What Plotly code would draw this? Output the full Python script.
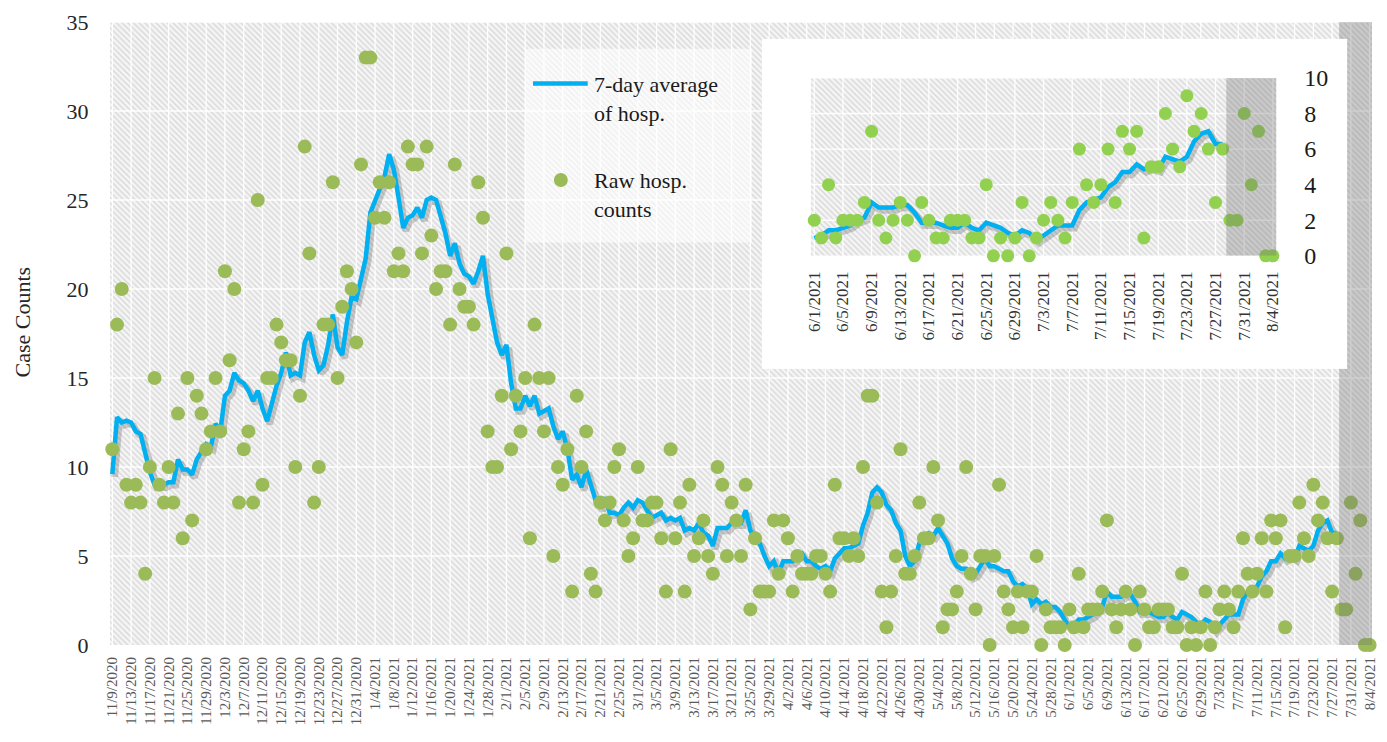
import pandas as pd
import plotly.graph_objects as go

# ---------------- data ----------------
START_DATE = "2020-11-09"

raw_counts = [
    11, 18, 20, 9, 8, 9, 8, 4, 10, 15,
    9, 8, 10, 8, 13, 6, 15, 7, 14, 13,
    11, 12, 15, 12, 21, 16, 20, 8, 11, 12,
    8, 25, 9, 15, 15, 18, 17, 16, 16, 10,
    14, 28, 22, 8, 10, 18, 18, 26, 15, 19,
    21, 20, 17, 27, 33, 33, 24, 26, 24, 26,
    21, 22, 21, 28, 27, 27, 22, 28, 23, 20,
    21, 21, 18, 27, 20, 19, 19, 18, 26, 24,
    12, 10, 10, 14, 22, 11, 14, 12, 15, 6,
    18, 15, 12, 15, 5, 10, 9, 11, 3, 14,
    10, 12, 4, 3, 8, 7, 8, 10, 11, 7,
    5, 6, 10, 7, 7, 8, 8, 6, 3, 11,
    6, 8, 3, 9, 5, 6, 7, 5, 4, 10,
    9, 5, 8, 7, 5, 9, 2, 6, 3, 3,
    3, 7, 4, 7, 6, 3, 5, 4, 4, 4,
    5, 5, 4, 3, 9, 6, 6, 5, 6, 5,
    10, 14, 14, 8, 3, 1, 3, 5, 11, 4,
    4, 5, 8, 6, 6, 10, 7, 1, 2, 2,
    3, 5, 10, 4, 2, 5, 5, 0, 5, 9,
    3, 2, 1, 3, 1, 3, 3, 5, 0, 2,
    1, 1, 1, 0, 2, 1, 4, 1, 2, 2,
    2, 3, 7, 2, 1, 2, 3, 2, 0, 3,
    2, 1, 1, 2, 2, 2, 1, 1, 4, 0,
    1, 0, 1, 3, 0, 1, 2, 3, 2, 1,
    3, 6, 4, 3, 4, 6, 3, 7, 6, 7,
    1, 5, 5, 8, 6, 5, 9, 7, 8, 6,
    3, 6, 2, 2, 8, 4, 7, 0, 0,
]

avg_7day = [
    9.6, 12.8, 12.5, 12.6, 12.5, 12.0, 11.86, 10.86, 9.71, 9.0,
    9.0, 9.0, 9.14, 9.14, 10.43, 9.86, 9.86, 9.57, 10.43, 10.86,
    11.29, 11.14, 12.43, 12.0, 14.0, 14.29, 15.29, 14.86, 14.71, 14.29,
    13.71, 14.29, 13.29, 12.57, 13.57, 14.57, 15.29, 16.43, 15.14, 15.29,
    15.14, 17.0, 17.57, 16.29, 15.43, 15.71, 16.86, 18.57, 16.71, 16.29,
    18.14, 19.57, 19.43, 20.71, 21.71, 24.29, 25.0, 25.71, 26.29, 27.57,
    26.71, 25.14, 23.43, 24.0, 24.14, 24.57, 24.0, 25.0, 25.14, 25.0,
    24.0, 23.14, 21.86, 22.57, 21.43, 20.86, 20.71, 20.29, 21.0, 21.86,
    19.71, 18.29, 17.0, 16.29, 16.86, 14.71, 13.29, 13.29, 14.0, 13.43,
    14.0, 13.0, 13.14, 13.29, 12.29, 11.57, 12.0, 11.0, 9.29, 9.57,
    8.86, 9.86, 9.0, 8.14, 7.71, 8.29, 7.43, 7.43, 7.29, 7.71,
    8.0, 7.71, 8.14, 8.0, 7.57, 7.14, 7.29, 7.43, 7.0, 7.14,
    7.0, 7.14, 6.43, 6.57, 6.43, 6.86, 6.29, 6.14, 5.57, 6.57,
    6.57, 6.57, 6.86, 6.86, 6.86, 7.57, 6.43, 6.0, 5.71, 5.0,
    4.43, 4.71, 4.0, 4.71, 4.71, 4.71, 5.0, 5.14, 4.71, 4.71,
    4.43, 4.29, 4.43, 4.14, 4.86, 5.14, 5.43, 5.43, 5.57, 5.71,
    6.71, 7.43, 8.57, 8.86, 8.57, 7.86, 7.57, 6.86, 6.43, 5.0,
    4.43, 4.71, 5.71, 6.14, 6.29, 6.14, 6.57, 6.14, 5.71, 4.86,
    4.43, 4.29, 4.29, 3.86, 4.0, 4.43, 4.86, 4.43, 4.43, 4.29,
    4.14, 4.14, 3.57, 3.29, 3.43, 3.14, 2.29, 2.57, 2.29, 2.43,
    2.14, 2.14, 1.86, 1.43, 1.0, 1.14, 1.43, 1.43, 1.57, 1.71,
    2.0, 2.14, 3.0, 2.71, 2.71, 2.71, 2.86, 2.86, 2.43, 1.86,
    1.86, 1.86, 1.71, 1.57, 1.57, 1.86, 1.57, 1.43, 1.86, 1.71,
    1.57, 1.29, 1.14, 1.43, 1.29, 0.86, 1.14, 1.43, 1.71, 1.71,
    1.71, 2.57, 3.0, 3.14, 3.29, 3.86, 4.14, 4.71, 4.71, 5.14,
    4.86, 5.0, 4.86, 5.57, 5.43, 5.29, 5.57, 6.43, 6.86, 7.0,
    6.29, 6.29,
]

y_ticks = [0, 5, 10, 15, 20, 25, 30, 35]
inset_y_ticks = [0, 2, 4, 6, 8, 10]
INSET_START = "2021-06-01"
SHADE_START = "2021-07-28 12:00"

legend_line_label = "7-day average<br>of hosp."
legend_dot_label = "Raw hosp.<br>counts"
y_title = "Case Counts"

# ---------------- derived axes helpers ----------------
dates = pd.date_range(START_DATE, periods=len(raw_counts), freq="D")
avg_dates = dates[: len(avg_7day)]
tick_dates = list(dates[::4])
tick_labels = [f"{d.month}/{d.day}/{d.year}" for d in tick_dates]

inset_start = pd.Timestamp(INSET_START)
inset_dates = [d for d in dates if d >= inset_start]
inset_raw = [v for d, v in zip(dates, raw_counts) if d >= inset_start]
inset_avg_dates = [d for d in avg_dates if d >= inset_start]
inset_avg = [v for d, v in zip(avg_dates, avg_7day) if d >= inset_start]
inset_tick_dates = inset_dates[::4]
inset_tick_labels = [f"{d.month}/{d.day}/{d.year}" for d in inset_tick_dates]

half = pd.Timedelta(hours=12)
x_lo, x_hi = dates[0] - half, dates[-1] + half
i_lo, i_hi = inset_dates[0] - half, inset_dates[-1] + half
shade_start = pd.Timestamp(SHADE_START)

# styling
BLUE = "#00B0F0"
GREEN = "#9BBB59"
GREEN_INSET = "#92D050"
SERIF = "Liberation Serif"
HATCH = dict(shape="\\", fgcolor="#b9b9b9", bgcolor="#f5f5f5", size=4, solidity=0.35)
GRID = "rgba(255,255,255,0.95)"
SHADE = "rgba(110,110,110,0.32)"
SHADOW = "rgba(40,40,40,0.22)"

fig = go.Figure()


def rect(x0, x1, y0, y1):
    return [x0, x1, x1, x0, x0], [y0, y0, y1, y1, y0]


def add_panel(xa, ya, sxa, sya, dxa, dya, lo, hi, ymax, gx, gy, d_avg, v_avg, d_raw, v_raw,
              dot_color, dot_size, line_w):
    hx, hy = rect(lo, hi, 0, ymax)
    fig.add_trace(go.Scatter(x=hx, y=hy, fill="toself", mode="none", fillpattern=HATCH,
                             hoverinfo="skip", showlegend=False, xaxis=xa, yaxis=ya))
    gxs, gys = [], []
    for t in gx:
        gxs += [t, t, None]
        gys += [0, ymax, None]
    for v in gy:
        if 0 < v:
            gxs += [lo, hi, None]
            gys += [v, v, None]
    fig.add_trace(go.Scatter(x=gxs, y=gys, mode="lines", line=dict(color=GRID, width=1.3),
                             hoverinfo="skip", showlegend=False, xaxis=xa, yaxis=ya))
    # soft shadow of the average line (same data, axes offset)
    fig.add_trace(go.Scatter(x=d_avg, y=v_avg, mode="lines", line=dict(color=SHADOW, width=line_w + 2),
                             hoverinfo="skip", showlegend=False, xaxis=sxa, yaxis=sya))
    fig.add_trace(go.Scatter(x=d_avg, y=v_avg, mode="lines", line=dict(color=BLUE, width=line_w),
                             name="7-day average of hosp.", showlegend=False, xaxis=dxa, yaxis=dya))
    fig.add_trace(go.Scatter(x=d_raw, y=v_raw, mode="markers",
                             marker=dict(color=dot_color, size=dot_size, line=dict(width=0)),
                             cliponaxis=False, name="Raw hosp. counts", showlegend=False,
                             xaxis=dxa, yaxis=dya))
    sx, sy = rect(shade_start, hi, 0, ymax)
    fig.add_trace(go.Scatter(x=sx, y=sy, fill="toself", mode="none", fillcolor=SHADE,
                             hoverinfo="skip", showlegend=False, xaxis=dxa, yaxis=dya))


# main panel
add_panel("x", "y", "x4", "y4", "x5", "y5", x_lo, x_hi, 35, tick_dates, y_ticks,
          avg_dates, avg_7day, dates, raw_counts, GREEN, 14, 4.5)

# inset white card
bx, by = rect(0, 1, 0, 1)
fig.add_trace(go.Scatter(x=bx, y=by, fill="toself", mode="none", fillcolor="white",
                         hoverinfo="skip", showlegend=False, xaxis="x2", yaxis="y2"))

# inset panel
add_panel("x3", "y3", "x6", "y6", "x7", "y7", i_lo, i_hi, 10, inset_tick_dates, inset_y_ticks,
          inset_avg_dates, inset_avg, inset_dates, inset_raw, GREEN_INSET, 13, 4.5)

# ---------------- layout ----------------
W, H = 1387, 742
ML, MR, MT, MB = 110, 9, 18, 97
PW, PH = W - ML - MR, H - MT - MB


def px_x(p):
    return (p - ML) / PW


def px_y(p):
    return (H - MB - p) / PH


main_day_px = PW / len(dates)
inset_day_px = 7.19
shift_main = pd.Timedelta(hours=24 * 2.5 / main_day_px)
shift_inset = pd.Timedelta(hours=24 * 2.5 / inset_day_px)
sy_main = 3 * 35 / PH
inset_dom_y = [px_y(253.3), px_y(74.3)]
sy_inset = 3 * 10 / ((inset_dom_y[1] - inset_dom_y[0]) * PH)

hidden = dict(visible=False, fixedrange=True)

fig.update_layout(
    width=W, height=H,
    margin=dict(l=ML, r=MR, t=MT, b=MB),
    paper_bgcolor="white", plot_bgcolor="white",
    font=dict(family=SERIF, color="#262626"),
    showlegend=False,
    xaxis=dict(domain=[0, 1], anchor="y", type="date", range=[x_lo, x_hi],
               tickmode="array", tickvals=tick_dates, ticktext=tick_labels, tickangle=-90,
               tickfont=dict(family=SERIF, size=15, color="#595959"),
               showgrid=False, zeroline=False, showline=False,
               ticks="outside", ticklen=5, tickcolor="rgba(0,0,0,0)"),
    yaxis=dict(domain=[0, 1], anchor="x", range=[0, 35], tickmode="array", tickvals=y_ticks,
               tickfont=dict(family=SERIF, size=22, color="#262626"),
               showgrid=False, zeroline=False, showline=False,
               ticks="outside", ticklen=16, tickcolor="rgba(0,0,0,0)"),
    xaxis4=dict(overlaying="x", type="date", range=[x_lo - shift_main, x_hi - shift_main], **hidden),
    yaxis4=dict(overlaying="y", range=[sy_main, 35 + sy_main], **hidden),
    xaxis5=dict(overlaying="x", type="date", range=[x_lo, x_hi], **hidden),
    yaxis5=dict(overlaying="y", range=[0, 35], **hidden),
    xaxis2=dict(domain=[px_x(765), px_x(1353)], anchor="y2", range=[0, 1], **hidden),
    yaxis2=dict(domain=[px_y(367), px_y(35)], anchor="x2", range=[0, 1], **hidden),
    xaxis3=dict(domain=[px_x(814), px_x(1282)], anchor="y3", type="date", range=[i_lo, i_hi],
                tickmode="array", tickvals=inset_tick_dates, ticktext=inset_tick_labels,
                tickangle=-90, tickfont=dict(family=SERIF, size=17, color="#333333"),
                showgrid=False, zeroline=False, showline=False,
                ticks="outside", ticklen=8, tickcolor="rgba(0,0,0,0)"),
    yaxis3=dict(domain=inset_dom_y, anchor="x3", side="right", range=[0, 10],
                tickmode="array", tickvals=inset_y_ticks,
                tickfont=dict(family=SERIF, size=24, color="#1a1a1a"),
                showgrid=False, zeroline=False, showline=False,
                ticks="outside", ticklen=22, tickcolor="rgba(0,0,0,0)"),
    xaxis6=dict(overlaying="x3", type="date", range=[i_lo - shift_inset, i_hi - shift_inset], **hidden),
    yaxis6=dict(overlaying="y3", range=[sy_inset, 10 + sy_inset], **hidden),
    xaxis7=dict(overlaying="x3", type="date", range=[i_lo, i_hi], **hidden),
    yaxis7=dict(overlaying="y3", range=[0, 10], **hidden),
)

# y-axis title
fig.add_annotation(x=px_x(22), y=px_y(320), xref="paper", yref="paper", text=y_title,
                   xanchor="center", yanchor="middle",
                   textangle=-90, showarrow=False, font=dict(family=SERIF, size=22, color="#262626"))

# hand-built legend (Excel style with long line key)
fig.add_shape(type="rect", xref="paper", yref="paper", x0=px_x(527), x1=px_x(755),
              y0=px_y(240), y1=px_y(45), fillcolor="rgba(255,255,255,0.6)", line=dict(width=0),
              layer="above")
fig.add_shape(type="line", xref="paper", yref="paper", x0=px_x(535), x1=px_x(590),
              y0=px_y(80), y1=px_y(80), line=dict(color=BLUE, width=4.5), layer="above")
fig.add_shape(type="circle", xref="paper", yref="paper", x0=px_x(556), x1=px_x(570),
              y0=px_y(184), y1=px_y(170), fillcolor=GREEN, line=dict(width=0), layer="above")
fig.add_annotation(x=px_x(594), y=px_y(95), xref="paper", yref="paper", text=legend_line_label,
                   xanchor="left", yanchor="middle", align="left", showarrow=False,
                   font=dict(family=SERIF, size=22, color="#1a1a1a"))
fig.add_annotation(x=px_x(594), y=px_y(192), xref="paper", yref="paper", text=legend_dot_label,
                   xanchor="left", yanchor="middle", align="left", showarrow=False,
                   font=dict(family=SERIF, size=22, color="#1a1a1a"))

fig.write_html("out.html", config={"responsive": False, "displayModeBar": False},
               post_script="document.body.style.margin='0px';")
